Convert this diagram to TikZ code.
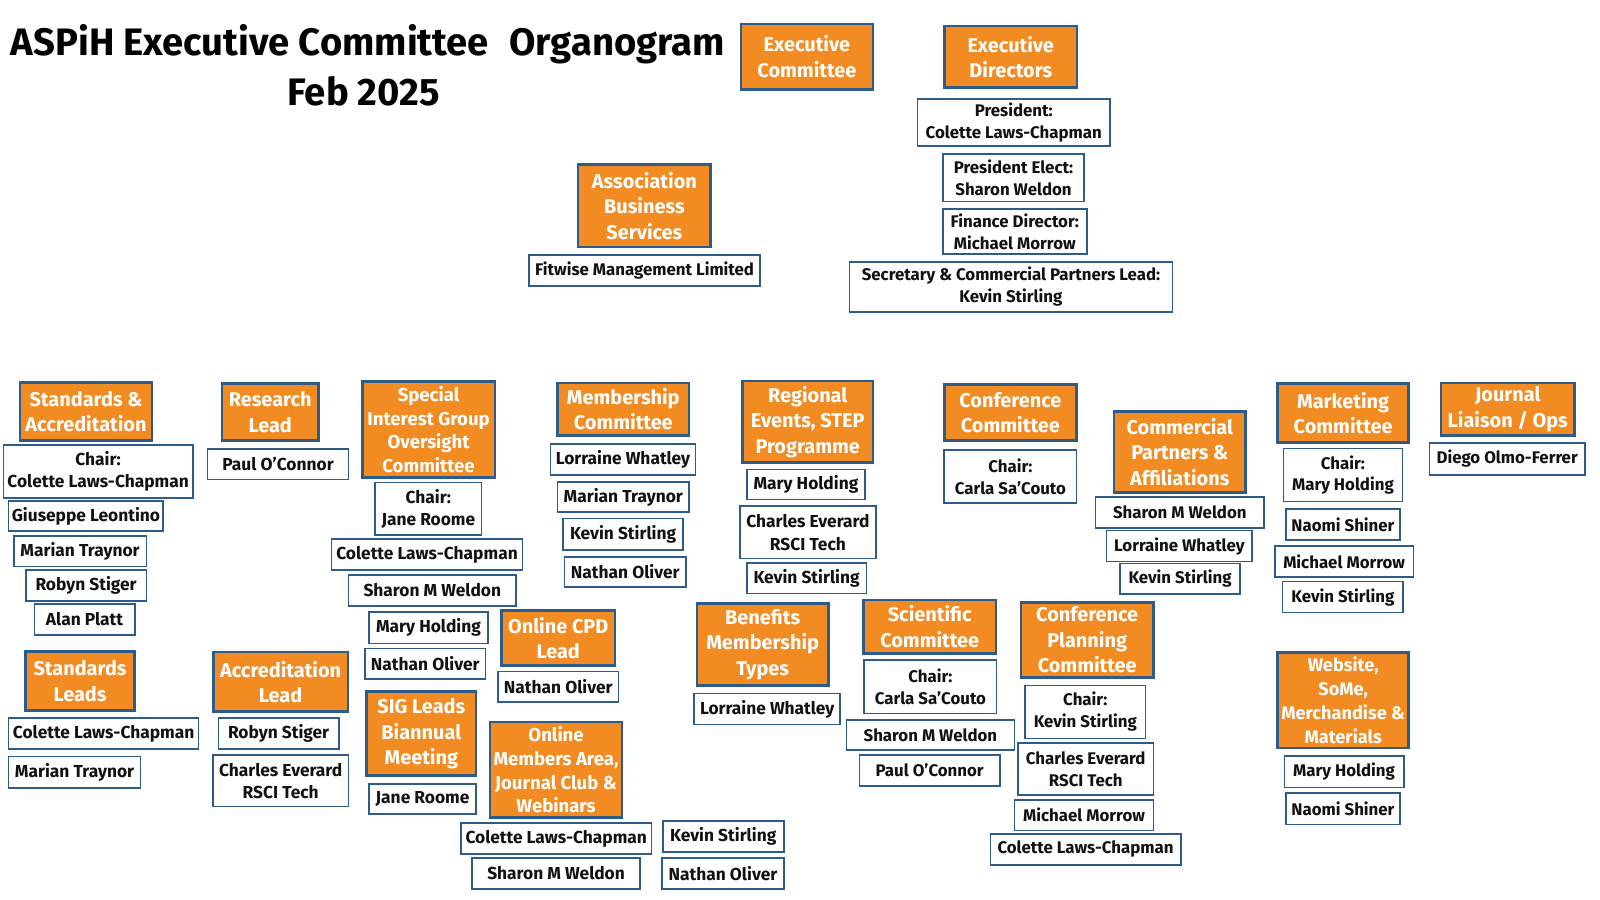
\documentclass[tikz,border=0pt]{standalone}
\usepackage{fontspec}
\setmainfont{Fira Sans}
\newfontfamily\wf{Fira Sans}
\usetikzlibrary{calc}
\definecolor{orng}{HTML}{F28C22}
\definecolor{navy}{HTML}{2C5B8C}
\definecolor{ink}{HTML}{111111}
\pgfdeclarelayer{bg}\pgfsetlayers{bg,main}
\tikzset{
 base/.style={align=center, inner sep=0pt, outer sep=0pt},
 ow/.style={base, fill=orng, draw=navy, line width=2.6pt, text=white, font=\wf\bfseries\fontsize{19.5}{25}\selectfont},
 owt/.style={base, fill=orng, draw=navy, line width=2.6pt, text=white, font=\wf\bfseries\fontsize{18.2}{23.4}\selectfont},
 oc/.style={base, fill=orng, draw=navy, line width=2.6pt, text=white, font=\wf\bfseries\fontsize{19.5}{25}\selectfont},
 oct/.style={base, fill=orng, draw=navy, line width=2.6pt, text=white, font=\wf\bfseries\fontsize{17.8}{23.6}\selectfont},
 ww/.style={base, fill=white, draw=navy, line width=1.6pt, text=ink, font=\wf\bfseries\fontsize{17}{22}\selectfont},
 wc/.style={base, fill=white, draw=navy, line width=1.6pt, text=ink, font=\wf\bfseries\fontsize{16.5}{21.5}\selectfont},
 conn/.style={draw=navy, line width=3.2pt},
 ttl/.style={anchor=base, inner sep=0pt, text=black, font=\wf\bfseries\fontsize{37.5}{44}\selectfont},
}
\newcommand\bx[7]{%
 \pgfmathsetmacro\bxw{#4-#3}\pgfmathsetmacro\bxh{#6-#5}%
 \pgfmathsetmacro\bxx{(#3+#4)/2}\pgfmathsetmacro\bxy{(#5+#6)/2}%
 \node[#1, minimum width=\bxw pt, minimum height=\bxh pt] (#2) at (\bxx,\bxy) {#7};}
\begin{document}
\begin{tikzpicture}[x=1pt,y=-1pt]
\fill[white] (0,0) rectangle (1568,882);
\useasboundingbox (0,0) rectangle (1568,882);
% title
\node[ttl] (t1) at (360.5,54) {ASPiH Executive Committee\hspace{0.3em} Organogram};
\node[ttl] (t2) at (356.5,103) {Feb 2025};
% top
\bx{oc}{ec}{726}{855.5}{23.5}{87.5}{Executive\\Committee}
\bx{oc}{ed}{925.5}{1055.5}{25.5}{86}{Executive\\Directors}
\bx{wc}{pres}{899}{1088}{97}{143}{President:\\Colette Laws-Chapman}
\bx{wc}{pe}{924}{1062.5}{151}{197.3}{President Elect:\\Sharon Weldon}
\bx{wc}{fd}{924}{1065}{205}{249}{Finance Director:\\Michael Morrow}
\bx{wc}{sec}{832.5}{1149}{257}{305.5}{Secretary \& Commercial Partners Lead:\\Kevin Stirling}
\bx{oc}{abs}{566.5}{696.5}{161.4}{242}{Association\\Business\\Services}
\bx{wc}{fit}{518.5}{745}{250}{280.3}{Fitwise Management Limited}
% standards
\bx{ow}{sa}{19.6}{149}{375}{432}{Standards \&\\Accreditation}
\bx{ww}{sac}{3.4}{189}{436}{488}{Chair:\\Colette Laws-Chapman}
\bx{ww}{gl}{8.4}{160}{491}{520.4}{Giuseppe Leontino}
\bx{ww}{mt1}{13.5}{143.4}{525}{555}{Marian Traynor}
\bx{ww}{rs1}{25.3}{143.4}{558.6}{589}{Robyn Stiger}
\bx{ww}{ap}{33.7}{132}{592}{622.3}{Alan Platt}
\bx{ow}{sl}{25.3}{131.6}{638.7}{696.5}{Standards\\Leads}
\bx{ow}{al}{209}{341}{639}{697.5}{Accreditation\\Lead}
\bx{ww}{clc1}{8.4}{194.7}{703.8}{734}{Colette Laws-Chapman}
\bx{ww}{mt2}{8.4}{137.7}{741.5}{772}{Marian Traynor}
\bx{ww}{rs2}{214}{332}{703.8}{734}{Robyn Stiger}
\bx{ww}{ce1}{208.6}{341.5}{740}{790.5}{Charles Everard\\RSCI Tech}
% research
\bx{ow}{rl}{217.6}{312}{375.7}{432}{Research\\Lead}
\bx{ww}{po1}{203.5}{341.5}{440}{470}{Paul O’Connor}
% SIG
\bx{owt}{sig}{355}{485}{374}{468}{Special\\Interest Group\\Oversight\\Committee}
\bx{ww}{sigc}{367.8}{471.8}{473}{524.3}{Chair:\\Jane Roome}
\bx{ww}{sclc}{325}{512}{528}{558.6}{Colette Laws-Chapman}
\bx{ww}{ssw}{341.5}{505.8}{563.5}{593.6}{Sharon M Weldon}
\bx{ww}{smh}{361.8}{478}{599.5}{630.5}{Mary Holding}
\bx{ww}{sno}{357.7}{475.8}{635.4}{665.4}{Nathan Oliver}
\bx{ow}{sigl}{359.4}{466.4}{677.8}{760.2}{SIG Leads\\Biannual\\Meeting}
\bx{ww}{sjr}{361.8}{466.4}{768.3}{797.7}{Jane Roome}
% membership
\bx{ow}{mc}{546.4}{675.2}{375.2}{427}{Membership\\Committee}
\bx{ww}{mlw}{539.4}{681.5}{435.4}{465.5}{Lorraine Whatley}
\bx{ww}{mmt}{546.4}{675.2}{472.2}{502}{Marian Traynor}
\bx{ww}{mks}{552}{669.2}{508.2}{539}{Kevin Stirling}
\bx{ww}{mno}{553.3}{672.3}{546}{575.3}{Nathan Oliver}
\bx{ow}{cpd}{491.4}{602.7}{598.2}{652.4}{Online CPD\\Lead}
\bx{ww}{cno}{488}{606.2}{658}{687.8}{Nathan Oliver}
\bx{owt}{oma}{480.2}{609.7}{707.6}{801}{Online\\Members Area,\\Journal Club \&\\Webinars}
\bx{ww}{oclc}{451.8}{638.4}{806.8}{837.2}{Colette Laws-Chapman}
\bx{ww}{osw}{462.7}{627.2}{840.7}{871}{Sharon M Weldon}
\bx{ww}{oks}{649.6}{768}{804.6}{834.8}{Kevin Stirling}
\bx{ww}{ono}{649}{768}{840.7}{871}{Nathan Oliver}
\bx{ow}{ben}{683.2}{811.6}{591.5}{672}{Benefits\\Membership\\Types}
\bx{ww}{blw}{680.4}{823.2}{679.7}{710}{Lorraine Whatley}
% regional
\bx{ow}{re}{727.7}{855.4}{373.4}{453.3}{Regional\\Events, STEP\\Programme}
\bx{ww}{rmh}{731.9}{847.7}{460}{489.6}{Mary Holding}
\bx{ww}{rce}{725.2}{858.2}{496}{547.4}{Charles Everard\\RSCI Tech}
\bx{ww}{rks}{731.9}{849}{552}{581.7}{Kevin Stirling}
% conference
\bx{oc}{cc}{925.3}{1055}{377}{432}{Conference\\Committee}
\bx{wc}{ccc}{925.3}{1055}{441}{493}{Chair:\\Carla Sa’Couto}
\bx{oc}{sci}{846}{976.2}{588}{640.6}{Scientific\\Committee}
\bx{wc}{scc}{847}{976.6}{647}{699.2}{Chair:\\Carla Sa’Couto}
\bx{wc}{ssw2}{829.4}{994.2}{705.3}{735}{Sharon M Weldon}
\bx{wc}{spo}{842.2}{980}{739.7}{770}{Paul O’Connor}
\bx{oc}{cpc}{1000.4}{1130.5}{590.2}{664.2}{Conference\\Planning\\Committee}
\bx{wc}{cpk}{1004.7}{1122.5}{671.7}{723.8}{Chair:\\Kevin Stirling}
\bx{wc}{cpce}{997.5}{1130.5}{727.9}{779.4}{Charles Everard\\RSCI Tech}
\bx{wc}{cpmm}{994.2}{1130.5}{783.8}{813.8}{Michael Morrow}
\bx{wc}{cpclc}{970.5}{1157.2}{817.1}{847.7}{Colette Laws-Chapman}
% commercial
\bx{oc}{cpa}{1091.6}{1220.8}{403.3}{482.4}{Commercial\\Partners \&\\Affiliations}
\bx{wc}{csw}{1073.6}{1238.8}{487}{517.4}{Sharon M Weldon}
\bx{wc}{clw}{1084.5}{1227}{520}{550.4}{Lorraine Whatley}
\bx{wc}{cks}{1097.8}{1215.1}{552.1}{582.4}{Kevin Stirling}
% marketing
\bx{oc}{mkt}{1252.2}{1380.4}{376}{433.6}{Marketing\\Committee}
\bx{wc}{mkc}{1257.8}{1374.3}{439.6}{491.5}{Chair:\\Mary Holding}
\bx{wc}{mkn}{1260.3}{1371.9}{498.8}{529.5}{Naomi Shiner}
\bx{wc}{mkm}{1249.3}{1385.2}{535.3}{565.6}{Michael Morrow}
\bx{wc}{mkk}{1257}{1375.2}{570}{600.3}{Kevin Stirling}
\bx{oct}{web}{1252.2}{1380.4}{639.7}{733}{Website,\\SoMe,\\Merchandise \&\\Materials}
\bx{wc}{wmh}{1258.8}{1375.6}{740.7}{771.7}{Mary Holding}
\bx{wc}{wns}{1260.3}{1371.9}{777}{808}{Naomi Shiner}
% journal
\bx{oc}{jl}{1412.3}{1542.9}{375.3}{426.5}{Journal\\Liaison / Ops}
\bx{wc}{dof}{1401}{1553}{434.2}{465.5}{Diego Olmo-Ferrer}
% connectors
\coordinate (busL) at (84.3,338);
\coordinate (busR) at (1478.7,338);
\coordinate (edA) at (889,141);
\coordinate (edB) at (889,61);
\coordinate (scol) at (81,0);
\coordinate (mj) at (614,626.5);
\coordinate (rA) at (694.4,543.2);
\coordinate (rB) at (531.7,543.2);
\coordinate (cj) at (991.8,566.3);
\coordinate (cm) at (1159.5,387.1);
\begin{pgfonlayer}{bg}
\draw[conn] (busL) -- (busR);
\draw[conn] (ec.south) -- (ec.south |- busL);
\draw[conn] (ec.south |- edA) -- (edA) -- (edB) -- (edB -| ed.west);
\draw[conn] (abs.east) -- (abs.east -| ec.south);
\draw[conn] (sa.north) -- (sa.north |- busL);
\draw[conn] (rl.north) -- (rl.north |- busL);
\draw[conn] (sig.north) -- (sig.north |- busL);
\draw[conn] (mj |- mc.north) -- (mj |- busL);
\draw[conn] (cc.north) -- (cc.north |- busL);
\draw[conn] (mkt.north) -- (mkt.north |- busL);
\draw[conn] (jl.north) -- (jl.north |- busL);
\draw[conn] (scol |- sa.south) -- (scol |- sl.north);
\draw[conn] (ap.east) -- (al.north |- ap.east) -- (al.north);
\draw[conn] (sig.south) -- (sig.south |- sno.north);
\draw[conn] (mj |- mc.south) -- (mj);
\draw[conn] (mj -| cpd.east) -- (mj -| ben.west);
\draw[conn] (oma.north |- cpd.south) -- (oma.north);
\draw[conn] (re.west) -| (rA) -- (rB) -- (rB |- cpd.north);
\draw[conn] (cc.south) -- (cc.south |- cj);
\draw[conn] (sci.north) -- (sci.north |- cj) -- (cpc.north |- cj) -- (cpc.north);
\draw[conn] (cm |- cpa.north) -- (cm) -- (cm -| mkt.west);
\draw[conn] (mkt.south) -- (web.north);
\end{pgfonlayer}
\end{tikzpicture}
\end{document}
